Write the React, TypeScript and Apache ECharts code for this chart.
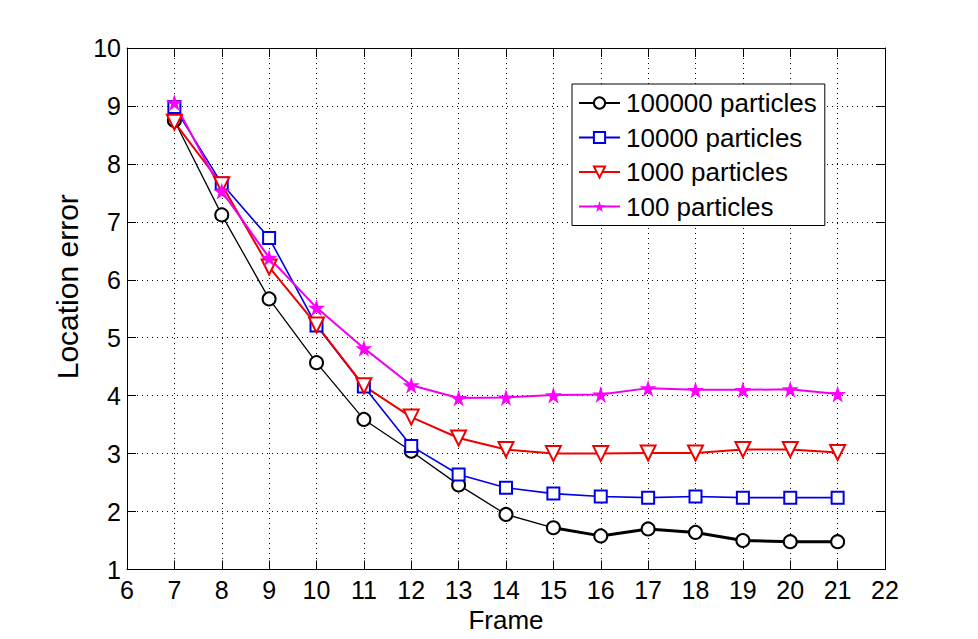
import React, { useEffect, useRef } from "react";
import * as echarts from "echarts";

const frames = [7, 8, 9, 10, 11, 12, 13, 14, 15, 16, 17, 18, 19, 20, 21];
const p100000 = [8.75, 7.12, 5.67, 4.57, 3.59, 3.04, 2.46, 1.95, 1.72, 1.58, 1.70, 1.64, 1.50, 1.48, 1.48];
const p10000 = [8.98, 7.66, 6.72, 5.21, 4.16, 3.13, 2.64, 2.41, 2.31, 2.26, 2.24, 2.26, 2.24, 2.24, 2.24];
const p1000 = [8.72, 7.64, 6.22, 5.22, 4.17, 3.63, 3.27, 3.07, 3.00, 3.00, 3.01, 3.01, 3.07, 3.07, 3.02];
const p100 = [9.06, 7.53, 6.38, 5.52, 4.82, 4.18, 3.96, 3.97, 4.01, 4.02, 4.13, 4.10, 4.10, 4.11, 4.03];
const seriesNames = ["100000 particles", "10000 particles", "1000 particles", "100 particles"];
const xTicks = { min: 6, max: 22, interval: 1 };
const yTicks = { min: 1, max: 10, interval: 1 };

const STAR = "path://M50,0 L61,35 L98,35 L68,57 L79,91 L50,70 L21,91 L32,57 L2,35 L39,35 Z";
const FONT = "Liberation Sans, Arial, sans-serif";

function pairs(ys: number[]) {
  return frames.map((x, i) => [x, ys[i]]);
}

export default function App() {
  const ref = useRef<HTMLDivElement>(null);
  useEffect(() => {
    if (!ref.current) return;
    const chart = echarts.init(ref.current, null, { renderer: "svg" });
    const axisBase = {
      type: "value" as const,
      axisLine: { show: true, onZero: false, lineStyle: { color: "#000", width: 1 } },
      axisTick: { show: true, inside: true, length: 9, lineStyle: { color: "#000" } },
    };
    chart.setOption({
      animation: false,
      backgroundColor: "#fff",
      grid: { left: 127, right: 93, top: 48, bottom: 69.5, containLabel: false },
      legend: {
        data: seriesNames,
        orient: "vertical",
        left: 572,
        top: 84,
        padding: [4, 8, 4, 6],
        itemGap: 4.5,
        itemWidth: 41,
        itemHeight: 14,
        borderColor: "#000",
        borderWidth: 1,
        backgroundColor: "#fff",
        textStyle: { fontSize: 26, fontFamily: FONT, color: "#000", lineHeight: 30, padding: [0, 0, 0, 1] },
      },
      xAxis: [
        {
          ...axisBase,
          position: "bottom",
          min: xTicks.min,
          max: xTicks.max,
          interval: xTicks.interval,
          name: "Frame",
          nameLocation: "middle",
          nameGap: 31,
          nameTextStyle: { fontSize: 26, fontFamily: FONT, color: "#000" },
          axisLabel: { fontSize: 25, fontFamily: FONT, color: "#000", margin: 8 },
          splitLine: { show: true, lineStyle: { color: "#000", type: [1, 4], width: 1 } },
        },
        {
          ...axisBase,
          position: "top",
          min: xTicks.min,
          max: xTicks.max,
          interval: xTicks.interval,
          axisLabel: { show: false },
          splitLine: { show: false },
        },
      ],
      yAxis: [
        {
          ...axisBase,
          position: "left",
          min: yTicks.min,
          max: yTicks.max,
          interval: yTicks.interval,
          name: "Location error",
          nameLocation: "middle",
          nameGap: 41,
          nameTextStyle: { fontSize: 30, fontFamily: FONT, color: "#000", padding: [0, 0, 0, 44] },
          axisLabel: { fontSize: 25, fontFamily: FONT, color: "#000", margin: 6 },
          splitLine: { show: true, lineStyle: { color: "#000", type: [1, 4], width: 1 } },
        },
        {
          ...axisBase,
          position: "right",
          min: yTicks.min,
          max: yTicks.max,
          interval: yTicks.interval,
          axisLabel: { show: false },
          splitLine: { show: false },
        },
      ],
      series: [
        {
          name: seriesNames[0],
          type: "line",
          data: pairs(p100000),
          symbol: "emptyCircle",
          symbolSize: 13,
          color: "#000",
          lineStyle: { color: "#000", width: 1.3 },
          itemStyle: { color: "#000", borderWidth: 1.3 },
        },
        {
          name: "100000 thick",
          type: "line",
          data: pairs(p100000).slice(8),
          symbol: "none",
          silent: true,
          lineStyle: { color: "#000", width: 3 },
          z: 1,
        },
        {
          name: seriesNames[1],
          type: "line",
          data: pairs(p10000),
          symbol: "emptyRect",
          symbolSize: 12,
          color: "#0000e6",
          lineStyle: { color: "#0000e6", width: 1.6 },
          itemStyle: { color: "#0000e6", borderWidth: 1.6 },
        },
        {
          name: seriesNames[2],
          type: "line",
          data: pairs(p1000),
          symbol: "emptyTriangle",
          symbolRotate: 180,
          symbolSize: 15,
          color: "#ee0000",
          lineStyle: { color: "#ee0000", width: 2 },
          itemStyle: { color: "#ee0000", borderWidth: 1.8 },
        },
        {
          name: seriesNames[3],
          type: "line",
          data: pairs(p100),
          symbol: STAR,
          symbolSize: 17,
          color: "#ff00ff",
          lineStyle: { color: "#ee00ee", width: 2 },
          itemStyle: { color: "#ff00ff" },
        },
      ],
    });
    return () => chart.dispose();
  }, []);
  return (
    <div
      ref={ref}
      style={{ position: "fixed", left: 0, top: 0, width: 978, height: 639, background: "#fff" }}
    />
  );
}
